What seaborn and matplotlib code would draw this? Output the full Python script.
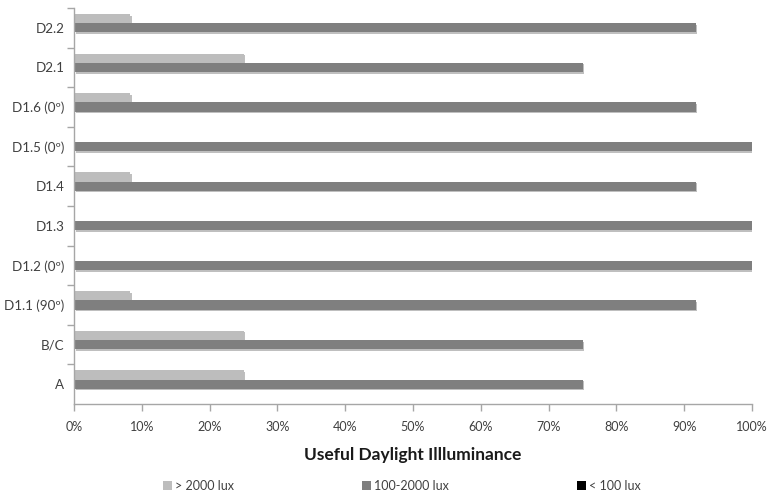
import matplotlib
matplotlib.use("Agg")
import matplotlib.pyplot as plt
import matplotlib.patheffects as pe
from matplotlib.patches import Patch
from matplotlib.ticker import PercentFormatter, MultipleLocator
import pandas as pd
import seaborn as sns

# Test cases, listed top to bottom
cases = ["D2.2", "D2.1", "D1.6 (0º)", "D1.5 (0º)", "D1.4",
         "D1.3", "D1.2 (0º)", "D1.1 (90º)", "B/C", "A"]
# Share of the room (%) in each illuminance band
above_2000 = [8.3, 25, 8.3, 0, 8.3, 0, 0, 8.3, 25, 25]
useful_100_2000 = [91.7, 75, 91.7, 100, 91.7, 100, 100, 91.7, 75, 75]
below_100 = [0, 0, 0, 0, 0, 0, 0, 0, 0, 0]
series_names = ["> 2000 lux", "100-2000 lux", "< 100 lux"]
series_colors = ["#bdbdbd", "#7f7f7f", "#000000"]

df = pd.concat([
    pd.DataFrame({"case": cases, "value": vals, "band": name})
    for name, vals in zip(series_names, [above_2000, useful_100_2000, below_100])
])

sns.set_theme(style="white")
plt.rcParams["font.family"] = ["Lato", "DejaVu Sans"]

fig = plt.figure(figsize=(7.7, 4.95), dpi=100)
ax = fig.add_axes([74 / 770, 91 / 495, 678 / 770, 396 / 495])

sns.barplot(data=df, y="case", x="value", hue="band", order=cases,
            hue_order=series_names, palette=series_colors, width=0.7,
            orient="h", ax=ax, legend=False, saturation=1)

shadow = [pe.SimplePatchShadow(offset=(1.2, -1.2), alpha=0.25, shadow_rgbFace="#000000"),
          pe.Normal()]
for p in ax.patches:
    p.set_edgecolor("none")
    p.set_path_effects(shadow)

ax.set_xlim(0, 100)
ax.xaxis.set_major_locator(MultipleLocator(10))
ax.xaxis.set_major_formatter(PercentFormatter(decimals=0))
ax.set_ylabel("")
ax.set_xlabel("Useful Daylight Illluminance", fontsize=12.5, fontweight="bold",
              color="#1a1a1a", labelpad=10)

for side in ["top", "right"]:
    ax.spines[side].set_visible(False)
for side in ["left", "bottom"]:
    ax.spines[side].set_color("#a6a6a6")
    ax.spines[side].set_linewidth(1)

# Category ticks sit on the band boundaries
ax.set_yticks([i + 0.5 for i in range(len(cases) - 1)] + [-0.5], minor=True)
ax.tick_params(axis="y", which="minor", left=True, length=5, color="#a6a6a6", width=1)
ax.tick_params(axis="y", which="major", left=False, length=0, labelsize=9.6,
               labelcolor="#404040", pad=7)
ax.tick_params(axis="x", bottom=True, length=5, color="#a6a6a6", width=1,
               labelsize=9, labelcolor="#404040", pad=7)

handles = [Patch(facecolor=c, edgecolor="none") for c in series_colors]
fig.legend(handles, series_names, loc="center", bbox_to_anchor=(402 / 770, 1 - 486 / 495),
           ncol=3, frameon=False, fontsize=9, labelcolor="#404040",
           handlelength=0.7, handleheight=0.7, handletextpad=0.3, columnspacing=10.2)

fig.savefig("out.png", dpi=100)
